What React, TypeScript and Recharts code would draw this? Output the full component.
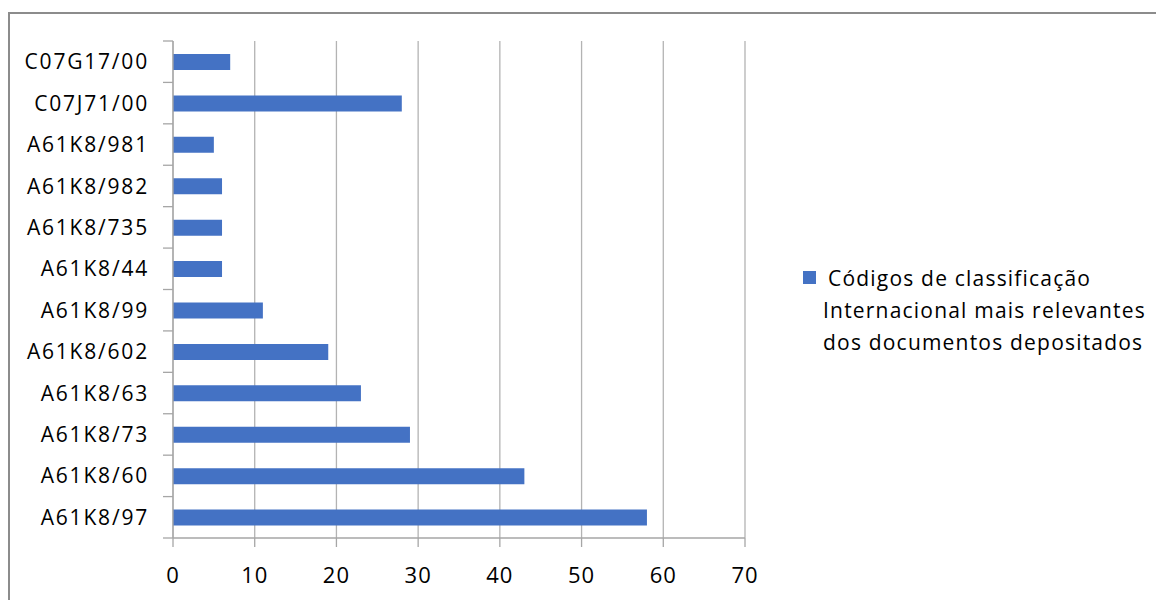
import React from "react";
import { BarChart, Bar, XAxis, YAxis, CartesianGrid, Legend } from "recharts";

// IPC classification codes, listed top to bottom
const codes = [
  "C07G17/00",
  "C07J71/00",
  "A61K8/981",
  "A61K8/982",
  "A61K8/735",
  "A61K8/44",
  "A61K8/99",
  "A61K8/602",
  "A61K8/63",
  "A61K8/73",
  "A61K8/60",
  "A61K8/97",
];

// number of deposited documents per code
const counts = [7, 28, 5, 6, 6, 6, 11, 19, 23, 29, 43, 58];

const xTicks = [0, 10, 20, 30, 40, 50, 60, 70];

const seriesName =
  "Códigos de classificação Internacional mais relevantes dos documentos depositados";
const legendLines = [
  "Códigos de classificação",
  "Internacional mais relevantes",
  "dos documentos depositados",
];

const data = codes.map((code, i) => ({ code, value: counts[i] }));

const FONT = "'Open Sans', sans-serif";
const TEXT_COLOR = "#000";
const BAR_COLOR = "#4472C4";
const AXIS_COLOR = "#a6a6a6";
const GRID_COLOR = "#b3b3b3";

const CHART_W = 1156;
const CHART_H = 592;
const MARGIN = { top: 33, right: 419, bottom: 22, left: 0 };
const Y_AXIS_W = 165;
const X_AXIS_H = 48;
const TICK_LEN = 10;
const TICK_GAP = 14;

const PLOT_H = CHART_H - MARGIN.top - MARGIN.bottom - X_AXIS_H;

// Category label plus a tick mark on the boundaries between categories
const CategoryTick = (props: any) => {
  const { x, y, payload, index, visibleTicksCount } = props;
  const half =
    typeof payload?.offset === "number" && payload.offset > 0
      ? payload.offset
      : PLOT_H / codes.length / 2;
  const axisX = x + TICK_LEN + TICK_GAP;
  const isLast = index === (visibleTicksCount ?? codes.length) - 1;
  return (
    <g>
      <line x1={axisX - TICK_LEN} x2={axisX} y1={y - half} y2={y - half} stroke={AXIS_COLOR} strokeWidth={1.3} />
      {isLast && (
        <line x1={axisX - TICK_LEN} x2={axisX} y1={y + half} y2={y + half} stroke={AXIS_COLOR} strokeWidth={1.3} />
      )}
      <text
        x={x}
        y={y}
        dy="0.36em"
        textAnchor="end"
        fill={TEXT_COLOR}
        fontSize={21}
        fontFamily={FONT}
        letterSpacing={1.8}
      >
        {payload.value}
      </text>
    </g>
  );
};

const LegendBox = () => (
  <div style={{ display: "flex", alignItems: "flex-start", fontFamily: FONT, fontSize: 21, letterSpacing: 1.2, color: TEXT_COLOR }}>
    <div style={{ width: 13, height: 13, background: BAR_COLOR, marginTop: 9, marginRight: 7, flex: "none" }} />
    <div style={{ lineHeight: "32px", whiteSpace: "nowrap" }}>
      {legendLines.map((line, i) => (
        <div key={i} style={{ paddingLeft: i === 0 ? 5 : 0 }}>{line}</div>
      ))}
    </div>
  </div>
);

export default function App() {
  return (
    <div style={{ position: "relative", width: 1156, height: 592, overflow: "hidden", background: "#fff" }}>
      <div
        style={{
          position: "absolute",
          left: 0,
          top: 4,
          width: 1300,
          height: 800,
          border: "2px solid #8c8c8c",
          boxSizing: "border-box",
        }}
      />
      <div style={{ position: "absolute", left: 0, top: 0 }}>
        <BarChart
          width={CHART_W}
          height={CHART_H}
          data={data}
          layout="vertical"
          margin={{ ...MARGIN, bottom: MARGIN.bottom - 8 }}
        >
          <CartesianGrid horizontal={false} stroke={GRID_COLOR} strokeWidth={1.3} />
          <XAxis
            type="number"
            domain={[0, 70]}
            ticks={xTicks}
            interval={0}
            height={X_AXIS_H}
            axisLine={{ stroke: AXIS_COLOR, strokeWidth: 1.3 }}
            tickLine={{ stroke: AXIS_COLOR, strokeWidth: 1.3 }}
            tickSize={9}
            tickMargin={20}
            tick={{ fill: TEXT_COLOR, fontSize: 22, fontFamily: FONT, letterSpacing: 1 }}
          />
          <YAxis
            type="category"
            dataKey="code"
            width={Y_AXIS_W}
            interval={0}
            axisLine={{ stroke: AXIS_COLOR, strokeWidth: 1.3 }}
            tickLine={false}
            tickSize={TICK_LEN}
            tickMargin={TICK_GAP}
            tick={<CategoryTick />}
          />
          <Legend
            layout="horizontal"
            verticalAlign="middle"
            align="center"
            wrapperStyle={{ left: 795, top: 254, width: 360 }}
            content={() => <LegendBox />}
          />
          <Bar
            dataKey="value"
            name={seriesName}
            fill={BAR_COLOR}
            barSize={16}
            isAnimationActive={false}
          />
        </BarChart>
      </div>
    </div>
  );
}
